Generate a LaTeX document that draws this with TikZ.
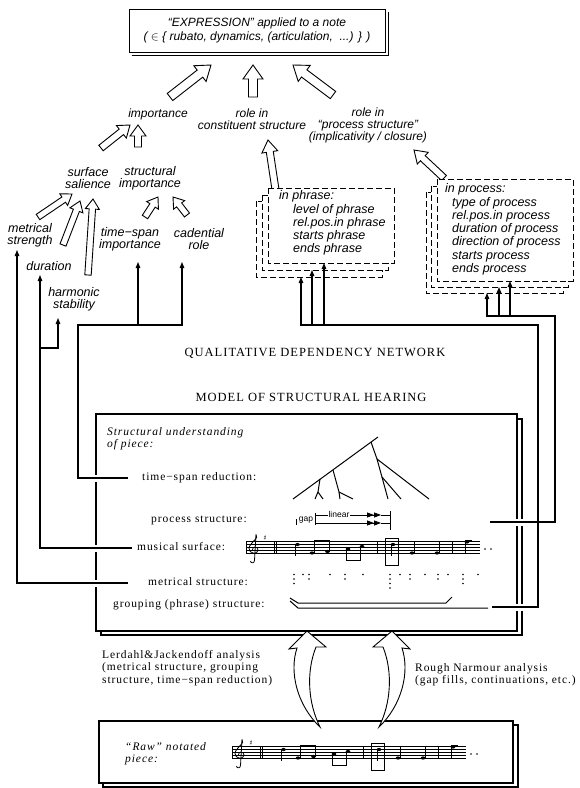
\documentclass[tikz,border=0pt]{standalone}
\usepackage{fontspec}
\setmainfont{Liberation Serif}[LetterSpace=8]
\newfontfamily\hv{Liberation Sans}[Ligatures=TeX]
\newfontfamily\djv{DejaVu Sans}
\usetikzlibrary{arrows.meta,calc}

\tikzset{
 xlab/.style={font=\hv\itshape\fontsize{12}{12}\selectfont, align=center, inner sep=0pt},
 xlabb/.style={xlab, font=\hv\itshape\fontsize{12.5}{12}\selectfont},
 xbtxt/.style={font=\hv\itshape\fontsize{12.5}{13.3}\selectfont, align=left, inner sep=0pt, anchor=north west},
 xrow/.style={font=\fontsize{11.5}{12}\selectfont, inner sep=0pt, anchor=west, text height=1.5ex, text depth=.25ex},
 xbig/.style={font=\fontsize{12.5}{13}\selectfont, inner sep=0pt},
 xtxt/.style={font=\fontsize{11.5}{12.5}\selectfont, align=left, inner sep=0pt, anchor=north west},
 xhollow/.style={draw=black, fill=white, line width=0.9pt, line join=miter},
 xconn/.style={line width=1.1pt, -{Triangle[length=6pt,width=4.5pt]}},
 xline/.style={line width=1.1pt},
 xframe/.style={line width=1.1pt},
 xdbox/.style={draw, fill=white, line width=0.8pt, dash pattern=on 6pt off 3pt},
 xstf/.style={line width=0.45pt},
 xsmall/.style={font=\hv\fontsize{8.5}{9}\selectfont, inner sep=0.8pt},
}

% hollow arrow from coordinate #1 to coordinate #2: half shaft, half head, head length
\newcommand\harrow[5]{%
  \draw[xhollow] let \p1=($(#2)-(#1)$), \n1={atan2(\y1,\x1)}, \n2={veclen(\x1,\y1)} in
    [shift={(#1)}, rotate=\n1]
    (0,-#3) -- ({\n2-#5},-#3) -- ({\n2-#5},-#4) -- (\n2,0) -- ({\n2-#5},#4) -- ({\n2-#5},#3) -- (0,#3) -- cycle;
}

\newcommand\musicrow[1]{%
 \foreach \k in {0,...,4} {\draw[xstf] (246,{541.5+3*\k}) -- (480,{541.5+3*\k});}
 \draw[line width=0.7pt] (246,541.5) -- (246,553.5);
 \draw[line width=0.8pt] (256,534.5) .. controls (260,538) and (249,543) .. (249,548.5)
    .. controls (249,554) and (258,555) .. (258,550) .. controls (258,546) and (252,546) .. (252.5,550);
 \draw[line width=0.8pt] (256,534.5) -- (254.5,560.5) .. controls (254.5,563.5) and (250.5,563.5) .. (250.5,561);
 \node[inner sep=0pt, font=\djv\fontsize{7}{7}\selectfont] (#1sh) at (265,538) {♯};
 \draw[line width=1pt] (274,541.5) -- (274,553.5);
 \draw[line width=0.5pt] (276,541.5) -- (276,553.5);
 \fill (297.5,544.5) ellipse (2.3 and 1.6); \draw[line width=0.6pt] (295.4,544.5) -- (295.4,556);
 \fill (312,553) ellipse (2.3 and 1.6); \fill (327.5,551.5) ellipse (2.3 and 1.6);
 \draw[line width=0.6pt] (314.1,553) -- (314.1,540); \draw[line width=0.6pt] (329.6,551.5) -- (329.6,540);
 \draw[line width=1.6pt] (314.1,540.4) -- (329.6,540.4);
 \fill (348,549) ellipse (2.3 and 1.6); \fill (362,546.5) ellipse (2.3 and 1.6);
 \draw[line width=0.6pt] (345.9,549) -- (345.9,561); \draw[line width=0.6pt] (359.9,546.5) -- (359.9,561);
 \draw[line width=1.6pt] (345.9,560.6) -- (359.9,560.6);
 \draw[line width=0.7pt] (377,541.5) -- (377,553.5);
 \draw[line width=0.9pt] (385,538) rectangle (398,565);
 \fill (393,544.5) ellipse (2.3 and 1.6); \draw[line width=0.6pt] (390.9,544.5) -- (390.9,556);
 \fill (412,553) ellipse (2.3 and 1.6); \draw[line width=0.6pt] (414.1,553) -- (414.1,541);
 \fill (437,553) ellipse (2.3 and 1.6); \draw[line width=0.6pt] (439.1,553) -- (439.1,541);
 \draw[line width=0.7pt] (452,541.5) -- (452,553.5);
 \fill (467,542) ellipse (2.3 and 1.6); \draw[line width=0.6pt] (464.9,542) -- (464.9,553);
 \draw[line width=1.2pt] (464.9,541) -- (472,541);
 \fill (485,549) circle (0.8); \fill (491,549) circle (0.8);
}

\begin{document}
\begin{tikzpicture}[x=1pt,y=-1pt]
\useasboundingbox (0,0) rectangle (579,788);
\fill[white] (0,0) rectangle (579,788);

% ---------- top box ----------
\node[draw, line width=0.9pt, fill=white, minimum width=256pt, minimum height=43pt, inner sep=0pt,
      xlab, font=\hv\itshape\fontsize{12}{14}\selectfont] (expr) at (257,30.5)
  {``EXPRESSION'' applied to a note\\( $\in$ \{ rubato, dynamics, (articulation, \ ...) \} )};
\draw[line width=0.9pt] ($(expr.south west)+(3,3)$) -- ($(expr.south east)+(3,3)$) -- ($(expr.north east)+(3,3)$);

% ---------- labels ----------
\node[xlab] (imp) at (158,114) {importance};
\node[xlab] (rcs) at (252,119) {role in\\constituent structure};
\node[xlab] (rps) at (368,125) {role in\\``process structure''\\(implicativity / closure)};
\node[xlabb] (ss) at (88,178) {surface\\salience};
\node[xlabb] (si) at (150,178) {structural\\importance};
\node[xlabb] (ms) at (30,235) {metrical\\strength};
\node[xlabb] (dur) at (49,266) {duration};
\node[xlabb] (hs) at (74,299) {harmonic\\stability};
\node[xlabb] (tsi) at (130,239) {time−span\\importance};
\node[xlabb] (cr) at (199,239) {cadential\\role};

% ---------- hollow arrows ----------
\coordinate (a1s) at (170,97);  \coordinate (a1e) at (211,65);
\coordinate (a2s) at (253,97);  \coordinate (a2e) at (253,65);
\coordinate (a3s) at (333,95);  \coordinate (a3e) at (293,65);
\coordinate (a4s) at (101,148); \coordinate (a4e) at (130,125);
\coordinate (a5s) at (138,147); \coordinate (a5e) at (138,125);
\coordinate (a6s) at (38,217);  \coordinate (a6e) at (72,194);
\coordinate (a7s) at (63,245);  \coordinate (a7e) at (80,201);
\coordinate (a8s) at (88,275);  \coordinate (a8e) at (93,199);
\coordinate (a9s) at (145,217); \coordinate (a9e) at (158,197);
\coordinate (a10s) at (187,215);\coordinate (a10e) at (173,197);
\coordinate (a11s) at (278,206);\coordinate (a11e) at (268,140);
\coordinate (a12s) at (444,178);\coordinate (a12e) at (414,150);
\harrow{a1s}{a1e}{4.5}{10}{14}
\harrow{a2s}{a2e}{4.5}{10}{14}
\harrow{a3s}{a3e}{4.5}{10}{14}
\harrow{a4s}{a4e}{3.5}{8}{11}
\harrow{a5s}{a5e}{3.5}{8}{11}
\harrow{a6s}{a6e}{3.2}{7}{10}
\harrow{a7s}{a7e}{3.2}{7}{10}
\harrow{a8s}{a8e}{3.2}{7}{10}
\harrow{a9s}{a9e}{3.2}{7}{10}
\harrow{a10s}{a10e}{3.2}{7}{10}
\harrow{a11s}{a11e}{3.5}{8}{12}
\harrow{a12s}{a12e}{3.5}{8}{12}

% ---------- dashed stacks ----------
\draw[xdbox] (256,201) rectangle (382,277);
\draw[xdbox] (262,195) rectangle (388,270);
\draw[xdbox] (268,188) rectangle (394,263);
\node[xbtxt] (phtxt) at (279,190.5) {in phrase:\\\hspace*{14pt}level of phrase\\\hspace*{14pt}rel.pos.in phrase\\\hspace*{14pt}starts phrase\\\hspace*{14pt}ends phrase};

\draw[xdbox] (426,192) rectangle (563,293);
\draw[xdbox] (431,186) rectangle (568,287);
\draw[xdbox] (437,179) rectangle (573,281);
\node[xbtxt] (prtxt) at (445,183.5) {in process:\\\hspace*{7pt}type of process\\\hspace*{7pt}rel.pos.in process\\\hspace*{7pt}duration of process\\\hspace*{7pt}direction of process\\\hspace*{7pt}starts process\\\hspace*{7pt}ends process};

% ---------- titles ----------
\node[xbig] (qdn) at (315,353) {QUALITATIVE DEPENDENCY NETWORK};
\node[xbig] (mdl) at (311,397) {MODEL OF STRUCTURAL HEARING};

% ---------- model box ----------
\draw[xframe] (96,414) rectangle (517,631);
\draw[xframe] (101,631) -- (101,635) -- (522,635) -- (522,419) -- (517,419);
\foreach \yy in {478,548,583} {\draw[white, line width=3pt] (96,\yy-3.5) -- (96,\yy+3.5);}
\foreach \yy in {522,607} {\draw[white, line width=3pt] (517,\yy-3.5) -- (517,\yy+3.5);
                           \draw[white, line width=3pt] (522,\yy-3.5) -- (522,\yy+3.5);}

\node[xtxt, font=\itshape\fontsize{11.5}{12}\selectfont] (su) at (107,427) {Structural understanding\\of piece:};

\node[xrow] (tsr) at (142,478) {time−span reduction:};
\node[xrow] (ps) at (151,520) {process structure:};
\node[xrow] (mus) at (137,548) {musical surface:};
\node[xrow] (met) at (148,583) {metrical structure:};
\node[xrow] (grp) at (113,605) {grouping (phrase) structure:};

% tree
\begin{scope}[line width=1pt]
\draw (293,499) -- (378,437);
\draw (371,442) -- (377,459) -- (388,499);
\draw (377,459) -- (429,499);
\draw (382,477) -- (401,499);
\draw (333,470) -- (339,492) -- (340,499);
\draw (339,492) -- (353,499);
\draw (320,479) -- (318,492) -- (315,499);
\draw (318,492) -- (323,499);
\end{scope}

% gap / linear
\begin{scope}[line width=0.8pt]
\draw (315,513) -- (315,525);
\draw (390,511) -- (390,530);
\draw[-{Triangle[length=7pt,width=5pt] Triangle[length=7pt,width=5pt]}] (315,515) -- (381,515);
\draw (381,515) -- (390,515);
\draw[-{Triangle[length=7pt,width=5pt] Triangle[length=7pt,width=5pt]}] (315,523) -- (381,523);
\draw (381,523) -- (390,523);
\draw (296.5,519) -- (296.5,525);
\end{scope}
\node[xsmall, fill=white] (lin) at (339,514) {linear};
\node[xsmall] (gap) at (306,520) {gap};

% musical surface
\musicrow{s}

% metrical dots
\foreach \xx/\nn in {294/3,303/1,309/2,330/1,345/2,363/1,390/4,400/1,410/2,425/1,438/2,448/1,463/3,478/1}{
  \foreach \k in {1,...,\nn}{\fill (\xx,{570+4.5*\k}) circle (0.9);}
}

% grouping brackets
\draw[line width=1pt] (290,598) -- (298,603) -- (446,603) -- (452,597);
\draw[line width=1pt] (290,601) -- (298,608) -- (488,608);

% ---------- connectors ----------
\coordinate (tsrA) at (128,478); \coordinate (tsrB) at (78,325); \coordinate (crT) at (182,262);
\coordinate (tsiB) at (138,325); \coordinate (tsiT) at (138,262);
\draw[xconn] (tsrA) -| (tsrB) -| (crT);
\draw[xconn] (tsiB) -- (tsiT);
\coordinate (musA) at (132,548); \coordinate (durT) at (40,275);
\draw[xconn] (musA) -| (durT);
\coordinate (hsB) at (40,348); \coordinate (hsT) at (58,318);
\draw[xconn] (hsB) -| (hsT);
\coordinate (metA) at (128,583); \coordinate (msT) at (17,250);
\draw[xconn] (metA) -| (msT);

\coordinate (grpA) at (492,607); \coordinate (phB) at (538,325); \coordinate (ph1) at (301,277);
\draw[xconn] (grpA) -| (phB) -| (ph1);
\coordinate (ph2b) at (312,325); \coordinate (ph2) at (312,270);
\coordinate (ph3b) at (324,325); \coordinate (ph3) at (324,263);
\draw[xconn] (ph2b) -- (ph2);
\draw[xconn] (ph3b) -- (ph3);
\coordinate (procA) at (490,522); \coordinate (prB) at (555,316); \coordinate (pr1) at (487,293);
\draw[xconn] (procA) -| (prB) -| (pr1);
\coordinate (pr2b) at (499,316); \coordinate (pr2) at (499,287);
\coordinate (pr3b) at (510,316); \coordinate (pr3) at (510,281);
\draw[xconn] (pr2b) -- (pr2);
\draw[xconn] (pr3b) -- (pr3);

% ---------- raw box ----------
\draw[xframe] (99,721) rectangle (513,783);
\draw[xframe] (103,783) -- (103,787) -- (518,787) -- (518,725) -- (513,725);
\node[xtxt, font=\itshape\fontsize{11.5}{12}\selectfont] (raw) at (125,742) {``Raw'' notated\\piece:};
\begin{scope}[shift={(-14,205)}]
\musicrow{r}
\end{scope}

% ---------- curved analysis arrows ----------
\draw[xhollow] (320,727) .. controls (297,705) and (289,672) .. (297,648) -- (289,649) -- (307,631)
   -- (326,647) -- (316,647) .. controls (306,672) and (308,703) .. (320,727) -- cycle;
\draw[xhollow] (379,727) .. controls (402,705) and (410,672) .. (402,648) -- (410,649) -- (392,631)
   -- (373,647) -- (383,647) .. controls (393,672) and (391,703) .. (379,727) -- cycle;

\node[xtxt] (lj) at (102,650) {Lerdahl\&Jackendoff analysis\\(metrical structure, grouping\\structure, time−span reduction)};
\node[xtxt] (rn) at (415,663) {Rough Narmour analysis\\(gap fills, continuations, etc.)};
\end{tikzpicture}
\end{document}
